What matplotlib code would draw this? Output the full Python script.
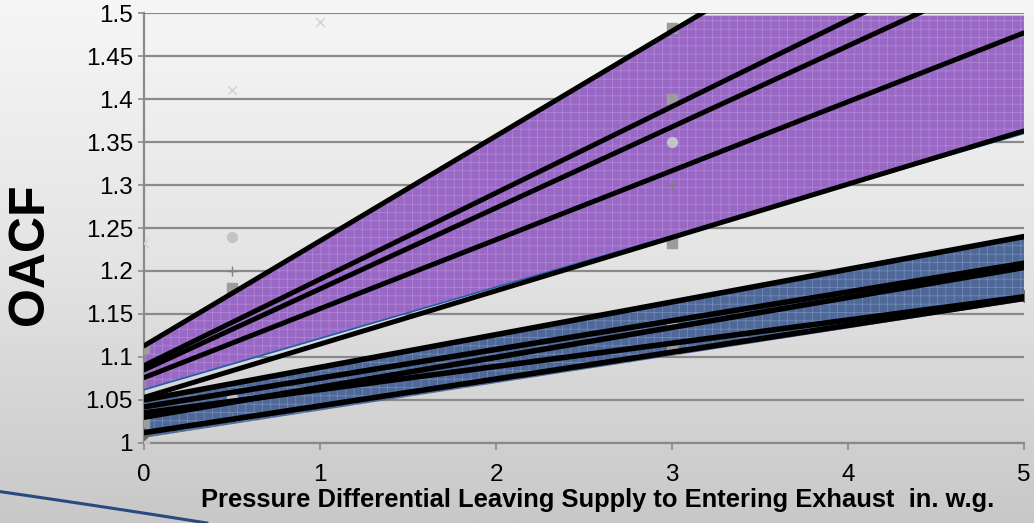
"""OACF vs pressure differential: shaded bands of fitted lines over test points."""

import matplotlib
matplotlib.use("Agg")
import matplotlib.pyplot as plt
import numpy as np

plt.rcParams["font.family"] = ["Liberation Sans", "DejaVu Sans"]
plt.rcParams["hatch.linewidth"] = 0.5

# ──────────────────────────────────────────────
# Data (values at x = 0 and x = 5)
# ──────────────────────────────────────────────
X_ENDS = [0.0, 5.0]

# upper (purple) group of fitted lines
purple_line_starts = [1.113, 1.090, 1.085, 1.076, 1.053]
purple_line_ends = [1.723, 1.592, 1.556, 1.477, 1.363]
purple_band_low = [1.062, 1.360]
purple_band_cap = 1.497

# lower (blue) group of fitted lines
blue_line_starts = [1.050, 1.042, 1.030, 1.035, 1.012]
blue_line_ends = [1.240, 1.209, 1.204, 1.170, 1.168]
blue_band_low = [1.006, 1.165]

# measured points (faint markers)
square_x = [0.0, 0.0, 0.5, 3.0, 3.0, 3.0, 3.0]
square_y = [1.110, 1.022, 1.180, 1.483, 1.400, 1.233, 1.109]
circle_x = [0.0, 0.5, 0.5, 3.0, 3.0]
circle_y = [1.000, 1.240, 1.052, 1.350, 1.138]
cross_x = [0.0, 0.5, 1.0]
cross_y = [1.232, 1.410, 1.490]
plus_x = [0.5, 0.5, 3.0]
plus_y = [1.200, 1.030, 1.300]
diamond_x = [0.0, 5.0]
diamond_y = [1.010, 1.171]

X_TICKS = [0, 1, 2, 3, 4, 5]
Y_TICKS = [1, 1.05, 1.1, 1.15, 1.2, 1.25, 1.3, 1.35, 1.4, 1.45, 1.5]
Y_TICK_LABELS = ["1", "1.05", "1.1", "1.15", "1.2", "1.25", "1.3", "1.35", "1.4", "1.45", "1.5"]

PURPLE = "#9868c4"
PURPLE_DOT = "#b48ad8"
BLUE = "#4f6898"
BLUE_DOT = "#7590bc"
EDGE_BLUE = "#1f5fa8"

fig = plt.figure(figsize=(10.34, 5.23), dpi=100)

# slide-style grey gradient behind everything
bg = fig.add_axes([0, 0, 1, 1], zorder=-10)
grad = np.linspace(0, 1, 256).reshape(-1, 1)
bg.imshow(grad, aspect="auto", cmap=matplotlib.colors.LinearSegmentedColormap.from_list(
    "bg", ["#f6f6f6", "#e4e4e4", "#c8c8c8"]), extent=[0, 1, 0, 1])
bg.set_axis_off()

# decorative template swoosh, bottom-left
t = np.linspace(0, 1, 50)
p0, p1, p2 = np.array([0.0, 0.060]), np.array([0.105, 0.030]), np.array([0.200, 0.000])
curve = ((1 - t) ** 2)[:, None] * p0 + (2 * (1 - t) * t)[:, None] * p1 + (t ** 2)[:, None] * p2
fig.add_artist(matplotlib.lines.Line2D(curve[:, 0], curve[:, 1], transform=fig.transFigure,
                                       color="#284a80", linewidth=2.2))

ax = fig.add_axes([0.1393, 0.1530, 0.8510, 0.8221])
ax.set_facecolor("none")

xs = np.linspace(X_ENDS[0], X_ENDS[1], 200)

# ── bands ──
purple_top = np.minimum(np.interp(xs, X_ENDS, [purple_line_starts[0], purple_line_ends[0]]),
                        purple_band_cap)
ax.fill_between(xs, np.interp(xs, X_ENDS, purple_band_low), purple_top,
                facecolor=PURPLE, edgecolor=PURPLE_DOT, hatch="++", linewidth=0, zorder=2)
ax.fill_between(xs, np.interp(xs, X_ENDS, blue_band_low),
                np.interp(xs, X_ENDS, [blue_line_starts[0], blue_line_ends[0]]),
                facecolor=BLUE, edgecolor=BLUE_DOT, hatch="++", linewidth=0, zorder=2)
ax.plot(X_ENDS, purple_band_low, color=EDGE_BLUE, linewidth=1.2, zorder=3)

# ── faint data markers ──
ax.scatter(square_x, square_y, marker="s", s=45, color="#9c9c9c", zorder=4)
ax.scatter(circle_x, circle_y, marker="o", s=50, color="#c4c4c4", zorder=4)
ax.scatter(cross_x, cross_y, marker="x", s=40, color="#d2d2d2", linewidths=1, zorder=4)
ax.scatter(plus_x, plus_y, marker="+", s=50, color="#808080", linewidths=1, zorder=4)
ax.scatter(diamond_x, diamond_y, marker="D", s=35, color="#6a6a6a", zorder=4)

# ── fitted lines ──
for y0, y1 in zip(purple_line_starts, purple_line_ends):
    ax.plot(X_ENDS, [y0, y1], color="black", linewidth=3.6, solid_capstyle="round", zorder=5)
for y0, y1 in zip(blue_line_starts, blue_line_ends):
    ax.plot(X_ENDS, [y0, y1], color="black", linewidth=4.0, solid_capstyle="round", zorder=5)

ax.set_xlim(0, 5)
ax.set_ylim(1, 1.5)
ax.set_xticks(X_TICKS)
ax.set_yticks(Y_TICKS)
ax.set_yticklabels(Y_TICK_LABELS)
ax.grid(True, axis="y", color="#8a8a8a", linewidth=1.6, zorder=1)
ax.set_axisbelow(True)
for side in ("top", "right"):
    ax.spines[side].set_visible(False)
for side in ("left", "bottom"):
    ax.spines[side].set_color("#8a8a8a")
    ax.spines[side].set_linewidth(1.6)
ax.tick_params(axis="x", direction="out", length=5, width=1.2, color="#8a8a8a",
               labelsize=17.5, pad=10)
ax.tick_params(axis="y", direction="out", length=4, width=1.2, color="#8a8a8a",
               labelsize=17.5, pad=4)

fig.text(598 / 1034, 1 - 500 / 523,
         "Pressure Differential Leaving Supply to Entering Exhaust  in. w.g.",
         ha="center", va="center", fontsize=18.4, fontweight="bold")
fig.text(30 / 1034, 1 - 254 / 523, "OACF", rotation=90, ha="center", va="center",
         fontsize=36, fontweight="bold")

fig.savefig("out.png", dpi=100)
